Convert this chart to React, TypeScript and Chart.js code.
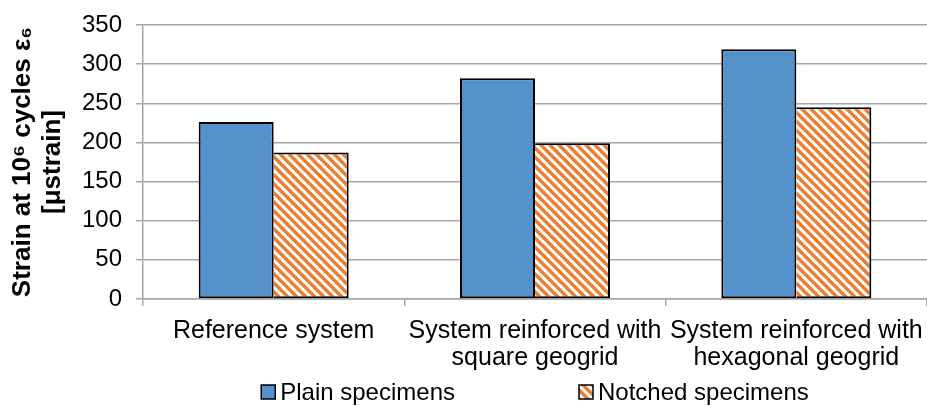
import React, { useEffect, useRef } from "react";
import { Chart, registerables } from "chart.js";

Chart.register(...registerables);

const categories: (string | string[])[] = [
  "Reference system",
  ["System reinforced with", "square geogrid"],
  ["System reinforced with", "hexagonal geogrid"],
];
const seriesNames = ["Plain specimens", "Notched specimens"];
const plainValues = [226, 282, 319];
const notchedValues = [187, 199, 245];
const yTitle = ["Strain at 10\u2076 cycles \u03B5\u2086", "[\u03BCstrain]"];
const yMin = 0;
const yMax = 350;
const yStep = 50;

const FONT = '"Liberation Sans", Arial, Helvetica, sans-serif';
const BLUE = "#5592cb";
const ORANGE = "#ed7d31";
const GRID = "#a6a6a6";

function makeStripes(ctx: CanvasRenderingContext2D, color: string): CanvasPattern {
  const size = 9;
  const c = document.createElement("canvas");
  c.width = size;
  c.height = size;
  const g = c.getContext("2d")!;
  g.fillStyle = "#ffffff";
  g.fillRect(0, 0, size, size);
  g.strokeStyle = color;
  g.lineWidth = 3.4;
  g.beginPath();
  for (let k = -1; k <= 1; k++) {
    g.moveTo(k * size - 2, -2);
    g.lineTo(k * size + size + 2, size + 2);
  }
  g.stroke();
  return ctx.createPattern(c, "repeat")!;
}

const legendPlugin = {
  id: "customLegend",
  afterDraw(chart: any) {
    const { ctx, chartArea } = chart;
    ctx.save();
    ctx.font = `24px ${FONT}`;
    const box = 14;
    const gap = 5;
    const spacing = 124;
    const items = chart.data.datasets.map((ds: any) => ({
      label: ds.label as string,
      fill: ds.backgroundColor,
      w: ctx.measureText(ds.label).width,
    }));
    const total =
      items.reduce((s: number, it: any) => s + box + gap + it.w, 0) +
      spacing * (items.length - 1);
    let x = (chartArea.left + chartArea.right) / 2 - total / 2;
    const cy = 392;
    items.forEach((it: any) => {
      ctx.fillStyle = it.fill;
      ctx.fillRect(x, cy - box / 2, box, box);
      ctx.strokeStyle = "#000";
      ctx.lineWidth = 1.5;
      ctx.strokeRect(x, cy - box / 2, box, box);
      ctx.fillStyle = "#000";
      ctx.textBaseline = "middle";
      ctx.textAlign = "left";
      ctx.fillText(it.label, x + box + gap, cy + 1);
      x += box + gap + it.w + spacing;
    });
    ctx.restore();
  },
};

export default function App() {
  const ref = useRef<HTMLCanvasElement>(null);

  useEffect(() => {
    const canvas = ref.current!;
    const ctx = canvas.getContext("2d")!;
    const stripes = makeStripes(ctx, ORANGE);
    const chart = new Chart(canvas, {
      type: "bar",
      data: {
        labels: categories,
        datasets: [
          {
            label: seriesNames[0],
            data: plainValues,
            backgroundColor: BLUE,
            borderColor: "#000",
            borderWidth: 2,
            borderSkipped: false,
          },
          {
            label: seriesNames[1],
            data: notchedValues,
            backgroundColor: stripes as any,
            borderColor: "#000",
            borderWidth: 2,
            borderSkipped: "left" as any,
          },
        ],
      },
      options: {
        responsive: false,
        devicePixelRatio: 1,
        animation: false,
        layout: { padding: { top: 25, left: 0, right: 0, bottom: 0 } },
        datasets: {
          bar: { categoryPercentage: 0.574, barPercentage: 1 },
        },
        plugins: {
          legend: { display: false },
          tooltip: { enabled: false },
        },
        scales: {
          x: {
            grid: {
              drawOnChartArea: false,
              drawTicks: true,
              tickLength: 7,
              color: GRID,
              lineWidth: 1.5,
            },
            border: { display: true, color: GRID, width: 1.5 },
            ticks: {
              autoSkip: false,
              maxRotation: 0,
              minRotation: 0,
              padding: 11,
              color: "#000",
              font: { family: FONT, size: 25, lineHeight: 1.1 },
            },
            afterFit(scale: any) {
              scale.height = 107;
              scale.paddingLeft = 0;
              scale.paddingRight = 0;
            },
          },
          y: {
            min: yMin,
            max: yMax,
            grid: {
              color: GRID,
              lineWidth: 1.5,
              drawTicks: true,
              tickLength: 7,
            },
            border: { display: true, color: GRID, width: 1.5 },
            ticks: {
              stepSize: yStep,
              padding: 14,
              color: "#000",
              font: { family: FONT, size: 24 },
            },
            title: {
              display: true,
              text: yTitle,
              color: "#000",
              padding: { top: 8, bottom: 0 },
              font: { family: FONT, size: 26, weight: "bold", lineHeight: 1.15 },
            },
            afterFit(scale: any) {
              scale.width = 143;
              scale.paddingTop = 0;
              scale.paddingBottom = 0;
            },
          },
        },
      },
      plugins: [legendPlugin],
    });
    return () => chart.destroy();
  }, []);

  return (
    <div
      style={{
        position: "fixed",
        left: 0,
        top: 0,
        width: 927,
        height: 406,
        background: "#fff",
      }}
    >
      <canvas ref={ref} width={927} height={406} style={{ display: "block" }} />
    </div>
  );
}
